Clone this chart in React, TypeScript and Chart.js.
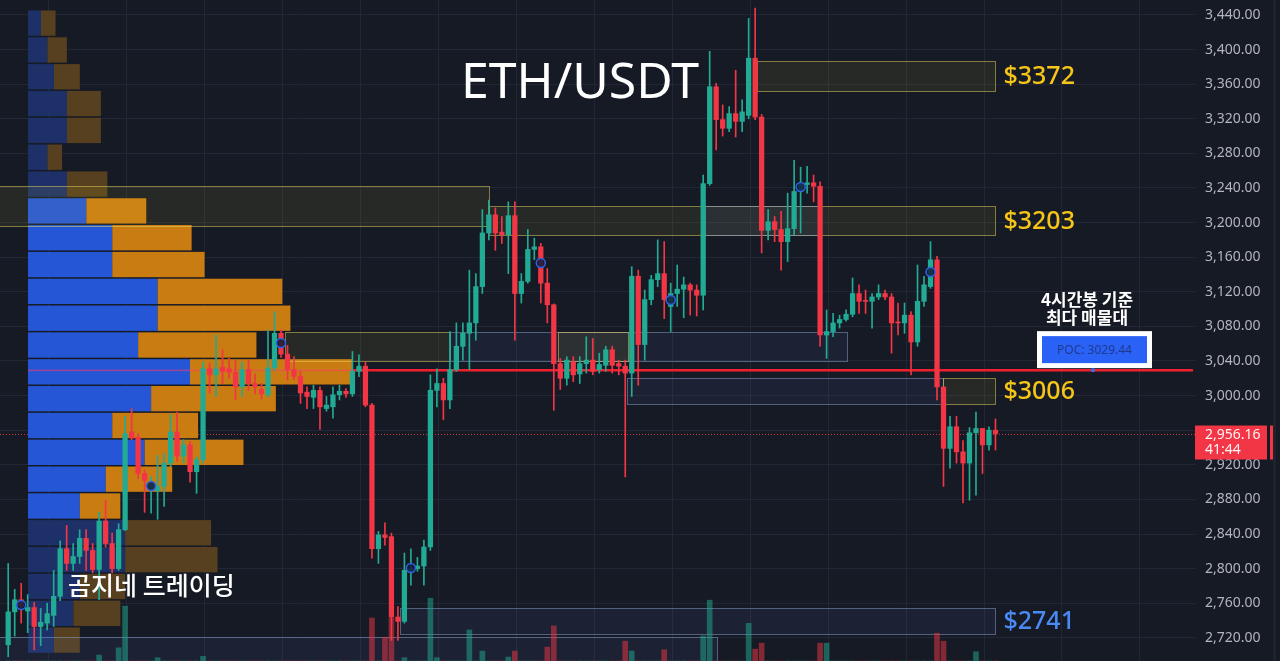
import { useEffect, useRef } from 'react';
import { Chart, registerables } from 'chart.js';

Chart.register(...registerables);

// ---------- Candles (4h ETH/USDT) ----------
const OPEN = [
  2712, 2750, 2764, 2751, 2755, 2733, 2737, 2746, 2768, 2823,
  2806, 2814, 2835, 2821, 2799, 2855, 2829, 2800, 2845, 2958,
  2952, 2910, 2894, 2890, 2895, 2922, 2958, 2930, 2943, 2912,
  2926, 3031, 3024, 3033, 3031, 3027, 3010, 3030, 3014, 3007,
  3001, 3032, 3072, 3048, 3030, 3022, 3004, 2998, 3006, 2985,
  2987, 3001, 3005, 3002, 3028, 3034, 2989, 2823, 2839, 2837,
  2744, 2739, 2797, 2800, 2803, 2825, 3006, 3014, 2995, 3030,
  3057, 3072, 3084, 3126, 3188, 3209, 3189, 3186, 3208, 3118,
  3132, 3169, 3172, 3130, 3105, 3037, 3020, 3039, 3025, 3037,
  3041, 3030, 3035, 3053, 3037, 3034, 3026, 3138, 3059, 3111,
  3134, 3141, 3103, 3118, 3123, 3128, 3122, 3116, 3245, 3357,
  3319, 3309, 3326, 3317, 3324, 3390, 3322, 3191, 3201, 3192,
  3178, 3193, 3236, 3244, 3246, 3242, 3070, 3074, 3084, 3088,
  3094, 3118, 3110, 3109, 3114, 3118, 3114, 3085, 3084, 3093,
  3062, 3109, 3126, 3157, 3010, 2939, 2964, 2935, 2922, 2957,
  2962, 2943, 2960,
];
const HIGH = [
  2806, 2776, 2783, 2770, 2761, 2754, 2760, 2798, 2832, 2850,
  2829, 2845, 2845, 2829, 2865, 2879, 2841, 2852, 2976, 2985,
  2956, 2914, 2906, 2931, 2933, 2978, 2981, 2949, 2947, 2929,
  3039, 3037, 3070, 3053, 3043, 3041, 3039, 3041, 3025, 3014,
  3076, 3097, 3076, 3058, 3045, 3028, 3010, 3012, 3010, 2999,
  3010, 3012, 3008, 3051, 3047, 3039, 2991, 2843, 2853, 2841,
  2756, 2818, 2823, 2813, 2833, 3024, 3031, 3020, 3074, 3084,
  3084, 3145, 3141, 3215, 3226, 3217, 3207, 3224, 3224, 3141,
  3192, 3182, 3176, 3147, 3106, 3043, 3045, 3045, 3045, 3068,
  3066, 3049, 3057, 3057, 3041, 3041, 3149, 3145, 3122, 3139,
  3180, 3178, 3130, 3151, 3137, 3130, 3128, 3255, 3398, 3361,
  3336, 3334, 3376, 3342, 3436, 3448, 3325, 3215, 3207, 3213,
  3234, 3272, 3264, 3265, 3255, 3247, 3099, 3095, 3093, 3099,
  3136, 3128, 3122, 3118, 3128, 3122, 3118, 3107, 3107, 3097,
  3151, 3138, 3178, 3161, 3010, 2976, 2976, 2948, 2963, 2981,
  2962, 2964, 2973,
];
const LOW = [
  2698, 2722, 2737, 2726, 2706, 2711, 2729, 2733, 2763, 2798,
  2798, 2806, 2798, 2795, 2764, 2825, 2795, 2798, 2844, 2949,
  2904, 2865, 2864, 2857, 2872, 2918, 2924, 2922, 2900, 2887,
  2922, 3003, 2999, 3014, 3020, 2995, 2999, 3006, 3002, 2996,
  2998, 3029, 3044, 3018, 3018, 2991, 2985, 2985, 2961, 2982,
  2974, 2995, 2998, 2999, 3022, 2987, 2812, 2806, 2827, 2717,
  2717, 2737, 2781, 2797, 2781, 2821, 2987, 2972, 2985, 3028,
  3041, 3030, 3064, 3118, 3180, 3168, 3176, 3141, 3064, 3107,
  3130, 3157, 3107, 3084, 2983, 3007, 3012, 3016, 3014, 3026,
  3024, 3026, 3028, 3026, 3024, 2906, 2999, 3012, 3041, 3105,
  3126, 3089, 3074, 3103, 3090, 3093, 3092, 3099, 3243, 3284,
  3300, 3305, 3299, 3305, 3320, 3319, 3165, 3180, 3178, 3145,
  3155, 3186, 3188, 3234, 3224, 3057, 3043, 3068, 3078, 3086,
  3091, 3095, 3095, 3078, 3111, 3111, 3049, 3070, 3072, 3024,
  3057, 3103, 3124, 2995, 2895, 2916, 2922, 2876, 2879, 2885,
  2910, 2937, 2937,
];
const CLOSE = [
  2750, 2764, 2757, 2755, 2733, 2738, 2748, 2768, 2823, 2806,
  2814, 2835, 2821, 2799, 2855, 2829, 2800, 2845, 2956, 2951,
  2910, 2902, 2898, 2895, 2922, 2958, 2930, 2943, 2912, 2926,
  3031, 3024, 3031, 3028, 3027, 3010, 3030, 3014, 3010, 3002,
  3032, 3072, 3048, 3030, 3022, 3003, 2999, 3006, 2987, 2989,
  3001, 3005, 3002, 3028, 3034, 2989, 2823, 2839, 2836, 2744,
  2739, 2798, 2800, 2803, 2825, 3006, 3014, 2995, 3030, 3057,
  3072, 3084, 3126, 3188, 3209, 3188, 3186, 3208, 3118, 3132,
  3169, 3172, 3130, 3105, 3037, 3020, 3041, 3024, 3037, 3041,
  3028, 3036, 3053, 3035, 3034, 3026, 3138, 3059, 3111, 3134,
  3141, 3111, 3118, 3123, 3128, 3122, 3116, 3245, 3357, 3319,
  3309, 3326, 3317, 3328, 3390, 3322, 3191, 3201, 3192, 3178,
  3193, 3236, 3245, 3246, 3242, 3070, 3074, 3084, 3088, 3094,
  3118, 3109, 3109, 3114, 3118, 3114, 3084, 3084, 3093, 3062,
  3109, 3128, 3157, 3010, 2939, 2964, 2935, 2922, 2957, 2962,
  2943, 2960, 2956.16,
];
// visible tips of the volume histogram (others hidden below the pane)
const VOLUME = [
  0, 0, 0, 0, 0, 0, 0, 0, 0, 0,
  0, 0, 0, 0, 0.9, 0, 0, 2.0, 8.3, 0,
  0, 0, 0, 0.5, 0, 0, 0, 0, 0, 0,
  0.7, 0, 0, 0, 0, 0, 0, 0, 0, 0,
  0, 0, 0, 0, 0, 0, 0, 0, 0, 0,
  0, 0, 0, 0, 0, 0, 6.5, 0, 3.6, 6.5,
  0, 0.5, 0, 0, 0, 9.5, 0.5, 0, 0, 0,
  0, 4.7, 0, 1.5, 0, 0, 0, 0.6, 1.5, 0,
  0, 0, 0, 2.1, 5.3, 0, 0, 0, 0, 0,
  0, 0, 0, 0, 0, 3.0, 1.5, 0, 0, 0,
  0, 1.7, 0, 0, 0, 0, 0, 3.8, 9.2, 0,
  0, 0, 0, 0, 5.7, 1.8, 2.7, 0, 0, 0,
  0, 0, 0, 0, 0, 2.7, 2.7, 0, 0, 0,
  0, 0, 0, 0, 0, 0, 0, 0, 0, 0,
  0, 0, 0, 4.2, 3.0, 0, 0, 0, 0, 1.4,
  0, 0, 0,
];

// indicator markers (candle index, price)
const MARKER_INDEX = [2, 22, 42, 62, 82, 102, 122, 142];
const MARKER_PRICE = [2757.9, 2895.5, 3060.8, 2800.7, 3153.3, 3110.5, 3241.2, 3142.9];

// ---------- Volume profile (rows from top) ----------
const PROFILE_TOP = 3445.8;
const PROFILE_STEP = 31.01;
const PROFILE_BUY = [8, 12, 16, 24, 24, 12, 24, 36, 52, 52, 80, 80, 68, 100, 76, 52, 72, 48, 32, 60, 60, 32, 28, 16];
const PROFILE_SELL = [9, 12, 16, 21, 21, 9, 25, 37, 49, 57, 77, 82, 73, 100, 77, 53, 61, 41, 25, 53, 57, 28, 29, 16];
const VALUE_AREA_FIRST = 7;
const VALUE_AREA_LAST = 18;
const POC = 3029.44;
// profile is anchored on the time axis: origin (bar index) and bars per volume unit
const PROFILE_ORIGIN = 3.05;
const PROFILE_BARS_PER_UNIT = 0.2494;

// ---------- Zones ----------
const ZONE_FROM = [-2, 74.0, 107.3, 115.3, 42.6, 68.0, 84.6, 95.3, 143.9, 60.3, -2];
const ZONE_TO = [74.0, 152, 124.7, 152, 68.0, 129.1, 95.4, 143.9, 152, 152, 109.1];
const ZONE_LOW = [3196.1, 3185.7, 3185.7, 3352.1, 3040.0, 3040.0, 3040.0, 2990.3, 2990.3, 2724.4, 2680];
const ZONE_HIGH = [3242.3, 3219.2, 3219.2, 3386.8, 3073.5, 3073.5, 3073.5, 3020.3, 3020.3, 2754.4, 2721];
const ZONE_TONE = ['gold', 'gold', 'blue', 'gold', 'gold', 'blue', 'gold', 'blue', 'gold', 'blue', 'blue'];

const LEVEL_TEXT = ['$3372', '$3203', '$3006', '$2741'];
const LEVEL_ZONE = [3, 1, 8, 9];
const LEVEL_TONE = ['gold', 'gold', 'gold', 'blue'];

// ---------- Axes ----------
const PRICE_TICKS = [2720, 2760, 2800, 2840, 2880, 2920, 2960, 3000, 3040, 3080, 3120, 3160, 3200, 3240, 3280, 3320, 3360, 3400, 3440];
const PRICE_MIN = 2693.2;
const PRICE_MAX = 3457.3;
const X_MIN = -1.263;
const X_MAX = 182.72;
const GRID_FIRST = 6.24;
const GRID_EVERY = 12;
const COUNTDOWN = '41:44';

const BG = '#161a25';
const GRID = '#232735';
const UP = '#22ab94';
const DOWN = '#f23645';
const GOLD_TEXT = '#f5c518';
const BLUE_TEXT = '#4a8af4';

const fmt = (v: number) => v.toLocaleString('en-US', { minimumFractionDigits: 2, maximumFractionDigits: 2 });

const noPad = (s: any) => {
  s.paddingLeft = 0;
  s.paddingRight = 0;
  s.paddingTop = 0;
  s.paddingBottom = 0;
};

export default function App() {
  const ref = useRef<HTMLCanvasElement>(null);

  useEffect(() => {
    const canvas = ref.current as HTMLCanvasElement;
    const idx = OPEN.map((_, i) => i);
    const candleColor = idx.map((i) => (CLOSE[i] >= OPEN[i] ? UP : DOWN));
    const volColor = idx.map((i) => (CLOSE[i] >= OPEN[i] ? 'rgba(34,171,148,0.5)' : 'rgba(242,54,69,0.5)'));

    const overlay = {
      id: 'overlay',
      beforeDraw(chart: any) {
        const { ctx, width, height } = chart;
        ctx.save();
        ctx.fillStyle = BG;
        ctx.fillRect(0, 0, width, height);
        ctx.restore();
      },
      beforeDatasetsDraw(chart: any) {
        const { ctx, chartArea: a } = chart;
        const xs = chart.scales.x;
        const ys = chart.scales.y;
        const vpx = (v: number) => xs.getPixelForValue(PROFILE_ORIGIN + v * PROFILE_BARS_PER_UNIT);
        ctx.save();
        ctx.beginPath();
        ctx.rect(a.left, a.top, a.right - a.left, a.bottom - a.top);
        ctx.clip();

        // price dotted line
        const lastY = Math.round(ys.getPixelForValue(CLOSE[CLOSE.length - 1])) + 0.5;
        ctx.strokeStyle = 'rgba(242,54,69,0.85)';
        ctx.lineWidth = 1;
        ctx.setLineDash([1, 2]);
        ctx.beginPath();
        ctx.moveTo(a.left, lastY);
        ctx.lineTo(a.right, lastY);
        ctx.stroke();
        ctx.setLineDash([]);

        // volume profile
        const x0 = vpx(0);
        let profileEnd = x0;
        for (let k = 0; k < PROFILE_BUY.length; k++) {
          const hi = PROFILE_TOP - k * PROFILE_STEP;
          const lo = hi - PROFILE_STEP;
          const yT = ys.getPixelForValue(hi) + 0.5;
          const yB = ys.getPixelForValue(lo) - 1;
          const bright = k >= VALUE_AREA_FIRST && k <= VALUE_AREA_LAST;
          const xb = vpx(PROFILE_BUY[k]);
          const xe = vpx(PROFILE_BUY[k] + PROFILE_SELL[k]);
          profileEnd = Math.max(profileEnd, xe);
          ctx.fillStyle = bright ? '#2456d6' : '#1d3168';
          ctx.fillRect(x0, yT, xb - x0, yB - yT);
          ctx.fillStyle = bright ? '#c97c12' : '#56401f';
          ctx.fillRect(xb, yT, xe - xb, yB - yT);
        }

        // POC line
        const pocY = ys.getPixelForValue(POC);
        ctx.fillStyle = 'rgba(255,60,110,0.55)';
        ctx.fillRect(x0, pocY - 0.5, profileEnd - x0, 1.5);
        ctx.strokeStyle = '#f0202e';
        ctx.lineWidth = 2.5;
        ctx.beginPath();
        ctx.moveTo(profileEnd, pocY);
        ctx.lineTo(a.right - 2, pocY);
        ctx.stroke();

        // zones
        for (let z = 0; z < ZONE_FROM.length; z++) {
          const x1 = Math.round(xs.getPixelForValue(ZONE_FROM[z])) + 0.5;
          const x2 = Math.round(xs.getPixelForValue(ZONE_TO[z])) + 0.5;
          const y1 = Math.round(ys.getPixelForValue(ZONE_HIGH[z])) + 0.5;
          const y2 = Math.round(ys.getPixelForValue(ZONE_LOW[z])) + 0.5;
          const gold = ZONE_TONE[z] === 'gold';
          ctx.fillStyle = gold ? 'rgba(255,235,59,0.07)' : 'rgba(100,140,220,0.08)';
          ctx.fillRect(x1, y1, x2 - x1, y2 - y1);
          ctx.strokeStyle = gold ? 'rgba(235,215,95,0.5)' : 'rgba(140,165,210,0.5)';
          ctx.lineWidth = 1;
          ctx.strokeRect(x1, y1, x2 - x1, y2 - y1);
        }
        ctx.restore();
      },
      afterDatasetsDraw(chart: any) {
        const { ctx } = chart;
        const xs = chart.scales.x;
        const ys = chart.scales.y;
        ctx.save();
        // title
        ctx.fillStyle = '#ffffff';
        ctx.font = '50px "Noto Sans", sans-serif';
        ctx.textAlign = 'center';
        ctx.textBaseline = 'alphabetic';
        ctx.fillText('ETH/USDT', 580, 98);

        // level labels
        ctx.textAlign = 'left';
        ctx.textBaseline = 'middle';
        ctx.font = '500 25px "Noto Sans", sans-serif';
        for (let l = 0; l < LEVEL_TEXT.length; l++) {
          const z = LEVEL_ZONE[l];
          const x = xs.getPixelForValue(ZONE_TO[z]) + 8;
          const y = (ys.getPixelForValue(ZONE_LOW[z]) + ys.getPixelForValue(ZONE_HIGH[z])) / 2 + 1;
          ctx.fillStyle = LEVEL_TONE[l] === 'gold' ? GOLD_TEXT : BLUE_TEXT;
          ctx.fillText(LEVEL_TEXT[l], x, y);
        }

        // watermark
        ctx.fillStyle = '#ffffff';
        ctx.font = '500 25px "Noto Sans CJK KR", sans-serif';
        ctx.fillText('곰지네 트레이딩', 68, 585);

        // POC annotation
        const pocY = ys.getPixelForValue(POC);
        ctx.textAlign = 'center';
        ctx.font = '700 17px "Noto Sans CJK KR", sans-serif';
        ctx.fillText('4시간봉 기준', 1087, pocY - 71);
        ctx.fillText('최다 매물대', 1087, pocY - 53);

        ctx.fillStyle = '#ffffff';
        ctx.fillRect(1037, pocY - 39, 115, 37);
        ctx.fillStyle = '#2a62f5';
        ctx.fillRect(1042, pocY - 34, 105, 27);
        ctx.fillStyle = 'rgba(25,40,100,0.7)';
        ctx.font = '12px "Noto Sans", sans-serif';
        ctx.fillText('POC: ' + POC.toFixed(2), 1094.5, pocY - 20);
        ctx.fillStyle = '#3a6df0';
        ctx.beginPath();
        ctx.arc(1093, pocY, 2, 0, Math.PI * 2);
        ctx.fill();
        ctx.restore();
      },
      afterDraw(chart: any) {
        const { ctx, height } = chart;
        const ys = chart.scales.y;
        const last = CLOSE[CLOSE.length - 1];
        const y = ys.getPixelForValue(last);
        ctx.save();
        // the live price label hides the axis label it overlaps
        ctx.fillStyle = BG;
        ctx.fillRect(ys.left, y - 20, ys.right - ys.left - 8, 14);
        ctx.fillStyle = '#1f2330';
        ctx.fillRect(1273, 0, 3, height);
        ctx.fillStyle = DOWN;
        ctx.fillRect(ys.left, y - 8, 72, 34);
        ctx.fillRect(ys.left + 75, y - 8, 3, 34);
        ctx.fillStyle = '#fff4f5';
        ctx.font = '14px "Noto Sans", sans-serif';
        ctx.textAlign = 'left';
        ctx.textBaseline = 'middle';
        ctx.fillText(fmt(last), ys.left + 10, y + 1);
        ctx.fillText(COUNTDOWN, ys.left + 10, y + 16);
        ctx.restore();
      },
    };

    const chart = new Chart(canvas, {
      type: 'bar',
      data: {
        datasets: [
          {
            label: 'Volume',
            data: idx.map((i) => ({ x: i, y: VOLUME[i] })),
            yAxisID: 'yv',
            backgroundColor: volColor,
            barThickness: 5,
            grouped: false,
            order: 4,
          } as any,
          {
            label: 'Wick',
            data: idx.map((i) => ({ x: i, y: [LOW[i], HIGH[i]] })),
            backgroundColor: candleColor,
            barThickness: 1,
            minBarLength: 1,
            grouped: false,
            order: 3,
          },
          {
            label: 'Body',
            data: idx.map((i) => ({ x: i, y: [OPEN[i], CLOSE[i]] })),
            backgroundColor: candleColor,
            barThickness: 4.6,
            minBarLength: 1,
            grouped: false,
            order: 2,
          },
          {
            type: 'scatter',
            label: 'Signal',
            data: MARKER_INDEX.map((i, k) => ({ x: i, y: MARKER_PRICE[k] })),
            pointRadius: 4.5,
            pointBackgroundColor: 'rgba(18,28,60,0.85)',
            pointBorderColor: '#2f63e6',
            pointBorderWidth: 1.5,
            order: 1,
          } as any,
        ],
      },
      options: {
        responsive: false,
        animation: false,
        events: [],
        layout: { padding: 0, autoPadding: false },
        plugins: { legend: { display: false }, tooltip: { enabled: false } },
        scales: {
          x: {
            type: 'linear',
            position: 'bottom',
            min: X_MIN,
            max: X_MAX,
            offset: false,
            grid: { color: GRID, offset: false, drawTicks: false },
            border: { display: false },
            ticks: { display: false },
            afterBuildTicks: (s: any) => {
              const t = [];
              for (let v = GRID_FIRST; v < X_MAX; v += GRID_EVERY) t.push({ value: v });
              s.ticks = t;
            },
            afterFit: (s: any) => {
              s.height = 0;
              noPad(s);
            },
          },
          y: {
            type: 'linear',
            position: 'right',
            min: PRICE_MIN,
            max: PRICE_MAX,
            beginAtZero: false,
            grid: { color: GRID, drawTicks: false },
            border: { display: false },
            ticks: {
              color: '#b2b5be',
              padding: 10,
              autoSkip: false,
              font: { size: 14, family: '"Noto Sans", sans-serif' },
              callback: (v: any) => fmt(Number(v)),
            },
            afterBuildTicks: (s: any) => {
              s.ticks = PRICE_TICKS.map((v) => ({ value: v }));
            },
            afterFit: (s: any) => {
              s.width = 85;
              noPad(s);
            },
          },
          yv: {
            type: 'linear',
            position: 'left',
            min: 0,
            max: 100,
            grid: { display: false, drawTicks: false },
            border: { display: false },
            ticks: { display: false },
            afterFit: (s: any) => {
              s.width = 0;
              noPad(s);
            },
          },
        },
      } as any,
      plugins: [overlay],
    });
    return () => chart.destroy();
  }, []);

  return (
    <div style={{ position: 'fixed', left: 0, top: 0, width: 1280, height: 661, background: BG }}>
      <canvas ref={ref} width={1280} height={661} style={{ display: 'block' }} />
    </div>
  );
}
